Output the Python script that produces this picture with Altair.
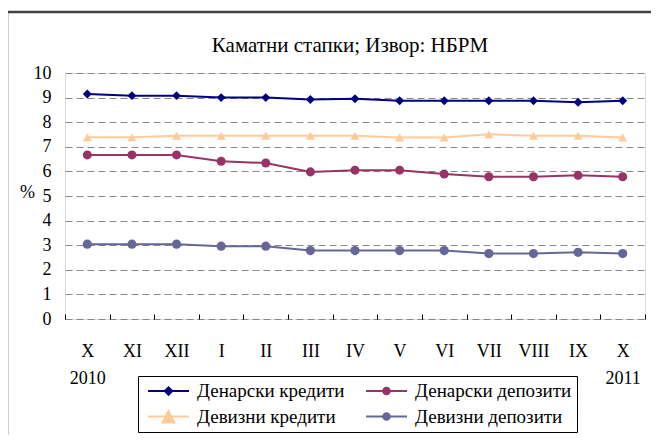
import altair as alt
import pandas as pd

FONT = "Liberation Serif"

# ---- data ----
months = ["X|2010", "XI", "XII", "I", "II", "III", "IV", "V", "VI", "VII", "VIII", "IX", "X|2011"]
series_names = ["Денарски кредити", "Денарски депозити", "Девизни кредити", "Девизни депозити"]
den_kred = [9.15, 9.08, 9.08, 9.00, 9.00, 8.92, 8.95, 8.87, 8.87, 8.87, 8.87, 8.81, 8.87]
den_dep = [6.67, 6.67, 6.67, 6.41, 6.34, 5.98, 6.05, 6.05, 5.89, 5.78, 5.78, 5.84, 5.78]
dev_kred = [7.39, 7.39, 7.45, 7.45, 7.45, 7.45, 7.45, 7.38, 7.38, 7.51, 7.45, 7.45, 7.38]
dev_dep = [3.04, 3.04, 3.04, 2.96, 2.96, 2.78, 2.78, 2.78, 2.78, 2.66, 2.66, 2.71, 2.66]
y_ticks = list(range(11))

# ---- styles ----
colors = ["#000080", "#993366", "#FFCC99", "#666699"]
marker_shapes = ["diamond", "circle", "triangle-up", "circle"]
marker_sizes = [80, 85, 170, 85]
LINE = "M-1,-0.05H1V0.05H-1Z"
legend_paths = [
    LINE + "M0,-0.25L0.25,0L0,0.25L-0.25,0Z",
    LINE + "M0.21,0A0.21,0.21 0 1,1 -0.21,0A0.21,0.21 0 1,1 0.21,0Z",
    LINE + "M0,-0.36L0.37,0.34L-0.37,0.34Z",
    LINE + "M0.21,0A0.21,0.21 0 1,1 -0.21,0A0.21,0.21 0 1,1 0.21,0Z",
]
LEG_SIZE = 1681

rows = []
for name, vals in zip(series_names, [den_kred, den_dep, dev_kred, dev_dep]):
    for m, v in zip(months, vals):
        rows.append({"month": m, "series": name, "value": v})
df = pd.DataFrame(rows)

x_enc = alt.X(
    "month:N",
    sort=months,
    scale=alt.Scale(type="band", paddingInner=0, paddingOuter=0),
    axis=alt.Axis(
        title=None,
        labelExpr="isValid(datum.value) ? split(datum.value, '|') : ''",
        labelFont=FONT, labelFontSize=18, labelColor="black",
        labelLineHeight=27, labelPadding=23, labelAngle=0, labelOverlap=False,
        ticks=True, tickBand="extent", tickSize=5, tickColor="black", tickWidth=1,
        offset=-5, domain=False, grid=False,
    ),
)
y_enc = alt.Y(
    "value:Q",
    scale=alt.Scale(domain=[0, 10], nice=False),
    axis=alt.Axis(
        values=y_ticks,
        title="%", titleAngle=0, titleX=-38, titleY=119,
        titleAlign="center", titleBaseline="middle",
        titleFont=FONT, titleFontSize=18, titleFontWeight="normal", titleColor="black",
        labelFont=FONT, labelFontSize=18, labelColor="black", labelPadding=14,
        ticks=False, domain=False,
        grid=True, gridColor="#888888", gridDash=[7, 4], gridWidth=1,
    ),
)
color_scale = alt.Scale(domain=series_names, range=colors)

lines = alt.Chart(df).mark_line(strokeWidth=2).encode(
    x=x_enc, y=y_enc,
    color=alt.Color("series:N", scale=color_scale, legend=None),
    detail="series:N",
)

points = alt.Chart(df).mark_point(filled=True, opacity=1, strokeWidth=0).encode(
    x=x_enc, y=y_enc,
    color=alt.Color("series:N", scale=color_scale, legend=None),
    shape=alt.Shape("series:N", scale=alt.Scale(domain=series_names, range=marker_shapes), legend=None),
    size=alt.Size("series:N", scale=alt.Scale(domain=series_names, range=marker_sizes), legend=None),
)

leg = dict(
    title=None, orient="none", legendX=73, legendY=303, columns=2, direction="horizontal",
    symbolSize=LEG_SIZE, symbolStrokeWidth=0, symbolOpacity=1, clipHeight=20,
    symbolOffset=5, labelOffset=8, labelLimit=400,
    labelFont=FONT, labelFontSize=19, labelColor="black",
    strokeColor="black", fillColor="white", padding=5,
    rowPadding=5.5, columnPadding=16,
)
legend_layer = alt.Chart(df).mark_point(filled=True, opacity=0, size=LEG_SIZE).encode(
    x=x_enc, y=y_enc,
    color=alt.Color("series:N", scale=color_scale, legend=alt.Legend(**leg)),
    shape=alt.Shape("series:N", scale=alt.Scale(domain=series_names, range=legend_paths),
                    legend=alt.Legend(**leg)),
)

frame = alt.Chart(pd.DataFrame({"a": [0]})).mark_rect(
    fill="transparent", stroke="#404040", strokeWidth=2.5
).encode(
    x=alt.value(-58), x2=alt.value(700), y=alt.value(-61), y2=alt.value(500)
)

chart = alt.layer(frame, lines, points, legend_layer).resolve_scale(
    color="independent", shape="independent", size="independent"
).properties(
    width=580, height=246,
    padding={"left": 57, "top": 65, "right": 6, "bottom": 116},
    autosize=alt.AutoSizeParams(type="none"),
    title=alt.TitleParams(
        "Каматни стапки; Извор: НБРМ", font=FONT, fontSize=21, fontWeight="normal",
        color="black", anchor="middle", dx=-5, offset=-62, baseline="alphabetic",
    ),
).configure_view(
    stroke="black", strokeWidth=1.3
).configure_legend(
    labelFont=FONT, labelFontSize=19, labelColor="black", labelLimit=400,
    symbolSize=LEG_SIZE, symbolStrokeWidth=0, clipHeight=20,
    symbolOffset=5, labelOffset=8,
    columns=2, direction="horizontal", padding=5, rowPadding=5.5, columnPadding=16,
    strokeColor="black", fillColor="white",
).configure(background="white")

chart.save("out.html", embed_options={"renderer": "svg", "actions": False})
